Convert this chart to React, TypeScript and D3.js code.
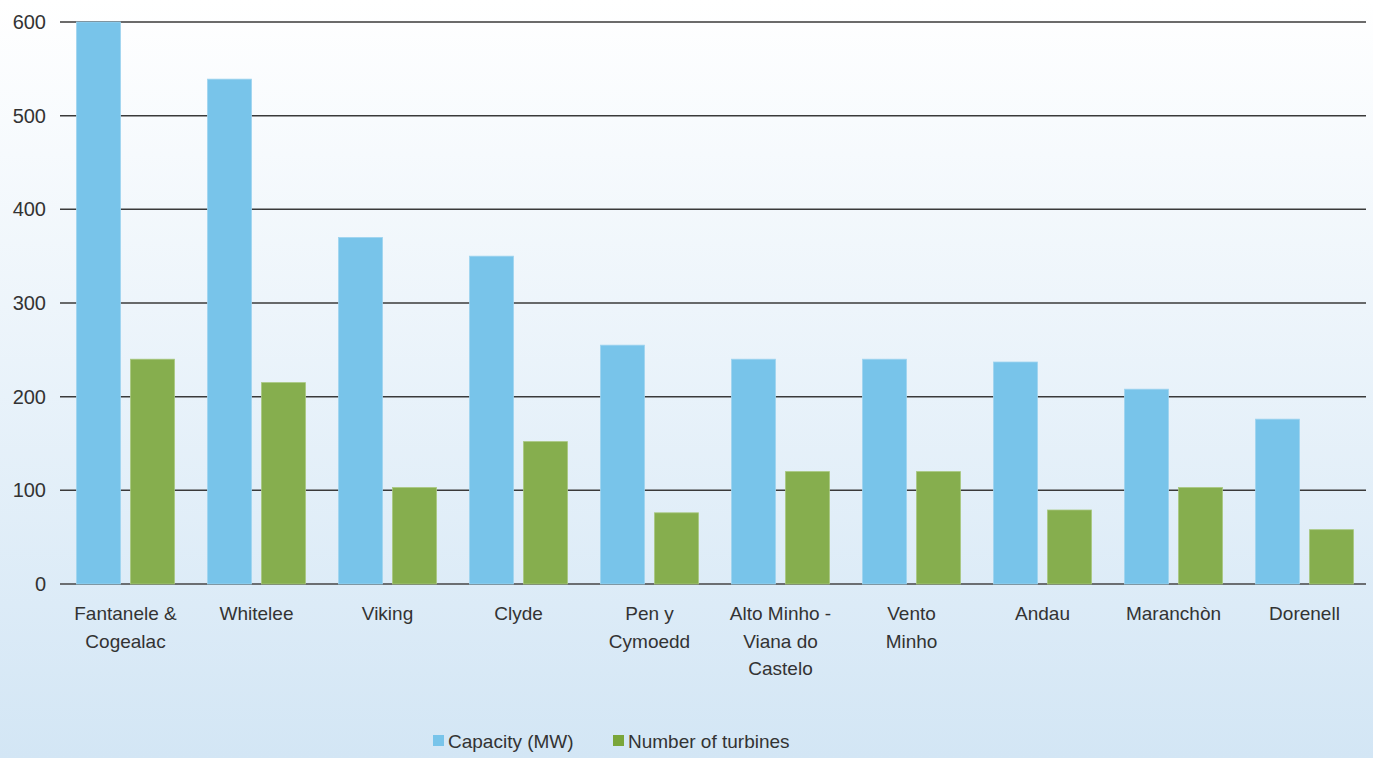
import * as d3 from "d3";
import { useEffect, useRef } from "react";

const categories = [
  "Fantanele & Cogealac",
  "Whitelee",
  "Viking",
  "Clyde",
  "Pen y Cymoedd",
  "Alto Minho - Viana do Castelo",
  "Vento Minho",
  "Andau",
  "Maranchòn",
  "Dorenell",
];

// how the labels wrap under the axis
const categoryLines = [
  ["Fantanele &", "Cogealac"],
  ["Whitelee"],
  ["Viking"],
  ["Clyde"],
  ["Pen y", "Cymoedd"],
  ["Alto Minho -", "Viana do", "Castelo"],
  ["Vento", "Minho"],
  ["Andau"],
  ["Maranchòn"],
  ["Dorenell"],
];

const capacity = [600, 539, 370, 350, 255, 240, 240, 237, 208, 176];
const turbines = [240, 215, 103, 152, 76, 120, 120, 79, 103, 58];

const seriesNames = ["Capacity (MW)", "Number of turbines"];
const yTicks = [0, 100, 200, 300, 400, 500, 600];

export default function App() {
  const ref = useRef<SVGSVGElement | null>(null);

  useEffect(() => {
    if (!ref.current) return;
    document.body.style.margin = "0";

    const width = 1373;
    const height = 758;
    const margin = { top: 22, right: 7, bottom: 174, left: 60 };
    const colors = ["#78c4ea", "#86ae4e"];
    const font = "'Liberation Sans', Arial, sans-serif";
    const fs = 19;

    const svg = d3.select(ref.current);
    svg.selectAll("*").remove();

    const defs = svg.append("defs");
    const grad = defs
      .append("linearGradient")
      .attr("id", "bg")
      .attr("x1", 0)
      .attr("y1", 0)
      .attr("x2", 0)
      .attr("y2", 1);
    grad.append("stop").attr("offset", "0%").attr("stop-color", "#ffffff");
    grad.append("stop").attr("offset", "100%").attr("stop-color", "#d3e6f5");

    svg
      .append("rect")
      .attr("width", width)
      .attr("height", height)
      .attr("fill", "url(#bg)");

    const x = d3
      .scaleBand<string>()
      .domain(categories)
      .range([margin.left, margin.left + 1310])
      .paddingInner(0)
      .paddingOuter(0);

    const y = d3
      .scaleLinear()
      .domain([0, 600])
      .range([height - margin.bottom, margin.top]);

    const barW = 44;
    const gap = 10;

    // gridlines
    svg
      .append("g")
      .selectAll("line")
      .data(yTicks)
      .join("line")
      .attr("x1", margin.left)
      .attr("x2", width - margin.right)
      .attr("y1", (d) => y(d))
      .attr("y2", (d) => y(d))
      .attr("stroke", (d) => (d === 0 ? "#444" : "#3a3a3a"))
      .attr("stroke-width", 1.5);

    // tick labels
    svg
      .append("g")
      .selectAll("text")
      .data(yTicks)
      .join("text")
      .attr("x", 46)
      .attr("y", (d) => y(d))
      .attr("dy", "0.35em")
      .attr("text-anchor", "end")
      .attr("font-family", font)
      .attr("font-size", 20)
      .attr("fill", "#333")
      .text((d) => d);

    const series = [capacity, turbines];
    series.forEach((vals, si) => {
      svg
        .append("g")
        .selectAll("rect")
        .data(vals)
        .join("rect")
        .attr("x", (_d, i) => {
          const c = x(categories[i])! + x.bandwidth() / 2;
          return si === 0 ? c - gap / 2 - barW : c + gap / 2;
        })
        .attr("y", (d) => y(d))
        .attr("width", barW)
        .attr("height", (d) => y(0) - y(d))
        .attr("fill", colors[si])
        .attr("stroke", si === 0 ? "#9fd4ef" : "#a8c77f")
        .attr("stroke-width", 0.8);
    });

    // category labels
    const lab = svg
      .append("g")
      .selectAll("text")
      .data(categoryLines)
      .join("text")
      .attr("x", (_d, i) => x(categories[i])! + x.bandwidth() / 2)
      .attr("y", 620)
      .attr("text-anchor", "middle")
      .attr("font-family", font)
      .attr("font-size", fs)
      .attr("fill", "#333");
    lab
      .selectAll("tspan")
      .data((d) => d)
      .join("tspan")
      .attr("x", function () {
        return (this.parentNode as SVGTextElement).getAttribute("x");
      })
      .attr("dy", (_d, i) => (i === 0 ? 0 : 27.5))
      .text((d) => d);

    // legend
    const legend = svg.append("g").attr("font-family", font).attr("font-size", fs);
    const legendX = [433, 613];
    seriesNames.forEach((name, i) => {
      legend
        .append("rect")
        .attr("x", legendX[i])
        .attr("y", 735)
        .attr("width", 11)
        .attr("height", 11)
        .attr("fill", i === 0 ? colors[0] : "#7aa63a");
      legend
        .append("text")
        .attr("x", legendX[i] + 15)
        .attr("y", 748)
        .attr("fill", "#333")
        .text(name);
    });
  }, []);

  return <svg ref={ref} width={1373} height={758} style={{ display: "block" }} />;
}
